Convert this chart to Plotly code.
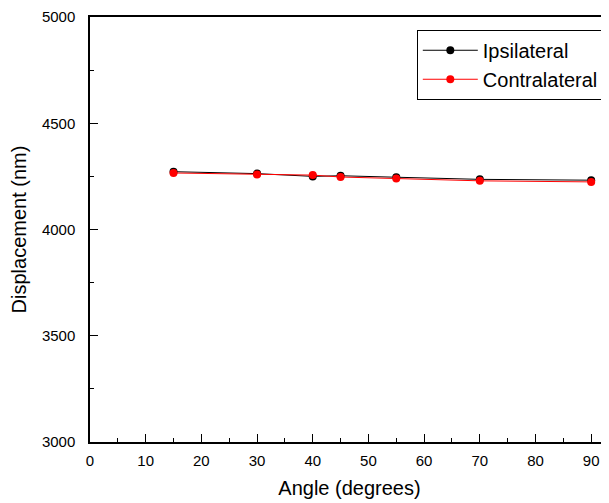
import plotly.graph_objects as go

angles = [15, 30, 40, 45, 55, 70, 90]
ipsilateral = [4272, 4263, 4250, 4253, 4246, 4236, 4232]
contralateral = [4266, 4259, 4256, 4247, 4240, 4229, 4224]

fig = go.Figure()
fig.add_trace(go.Scatter(x=angles, y=ipsilateral, mode="lines+markers", name="Ipsilateral",
                         line=dict(color="black", width=1),
                         marker=dict(color="black", size=8)))
fig.add_trace(go.Scatter(x=angles, y=contralateral, mode="lines+markers", name="Contralateral",
                         line=dict(color="red", width=1),
                         marker=dict(color="red", size=8)))

font = "Liberation Sans, Arial, sans-serif"
# page body has an 8px margin, so the figure is sized/offset to compensate
fig.update_layout(
    width=601, height=495,
    margin=dict(l=82, r=0, t=9, b=61),
    plot_bgcolor="white", paper_bgcolor="white",
    font=dict(family=font, color="black", size=15),
    showlegend=True,
    legend=dict(x=0.990, y=0.97, xanchor="right", yanchor="top",
                bordercolor="black", borderwidth=1, bgcolor="white",
                font=dict(size=20, family=font), tracegroupgap=0,
                itemwidth=55),
    xaxis=dict(range=[0, 93.2], tickmode="array", tickvals=list(range(0, 100, 10)),
               ticks="inside", ticklen=8, tickwidth=1, tickcolor="black",
               showline=True, linecolor="black", linewidth=1.5, mirror=True,
               showgrid=False, zeroline=False,
               minor=dict(tickvals=list(range(5, 100, 10)), ticks="inside", ticklen=4, tickcolor="black"),
               title=dict(text="Angle (degrees)", font=dict(size=20), standoff=13),
               tickfont=dict(size=15), ticklabelstandoff=4),
    yaxis=dict(range=[3000, 5000], tickmode="array", tickvals=[3000, 3500, 4000, 4500, 5000],
               ticks="inside", ticklen=8, tickwidth=1, tickcolor="black",
               showline=True, linecolor="black", linewidth=1.5,
               showgrid=False, zeroline=False,
               minor=dict(tickvals=[3250, 3750, 4250, 4750], ticks="inside", ticklen=4, tickcolor="black"),
               title=dict(text="Displacement (nm)", font=dict(size=20), standoff=10),
               tickfont=dict(size=15), ticklabelstandoff=10),
)

fig.write_html("out.html")
